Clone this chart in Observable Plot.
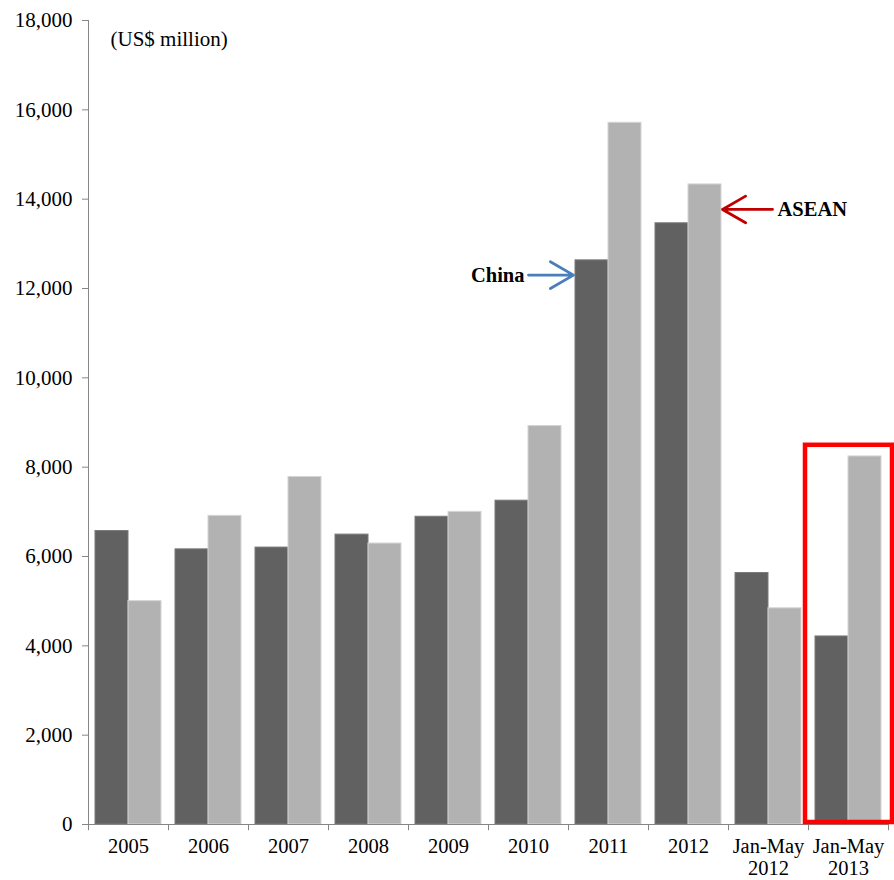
<!DOCTYPE html>
<html>
<head>
<meta charset="utf-8">
<script src="https://cdn.jsdelivr.net/npm/d3@7"></script>
<script src="https://cdn.jsdelivr.net/npm/@observablehq/plot@0.6"></script>
<style>
  html, body { margin: 0; padding: 0; background: #ffffff; }
  #chart { width: 894px; height: 880px; overflow: hidden; }
</style>
</head>
<body>
<div id="chart"></div>
<script>
// Categories (x-axis labels)
const categories = ["2005", "2006", "2007", "2008", "2009", "2010", "2011", "2012", "Jan-May 2012", "Jan-May 2013"];
const categoryLabels = ["2005", "2006", "2007", "2008", "2009", "2010", "2011", "2012", "Jan-May\n2012", "Jan-May\n2013"];
// Series values (US$ million)
const chinaValues = [6570, 6160, 6200, 6490, 6890, 7250, 12630, 13460, 5630, 4210];
const aseanValues = [5000, 6910, 7780, 6290, 7000, 8920, 15710, 14330, 4840, 8240];
// Y tick values
const yTicks = [0, 2000, 4000, 6000, 8000, 10000, 12000, 14000, 16000, 18000];
// Annotations
const unitLabel = "(US$ million)";
const chinaNote = {label: "China", from: "2010", to: "2011", value: 12300};
const aseanNote = {label: "ASEAN", from: "Jan-May 2012", to: "2012", value: 13770};
const highlight = {category: "Jan-May 2013", top: 8490};

const labelOf = new Map(categories.map((c, i) => [c, categoryLabels[i]]));
const china = categories.map((c, i) => ({category: c, value: chinaValues[i]}));
const asean = categories.map((c, i) => ({category: c, value: aseanValues[i]}));
const boundaries = categories.map(c => ({category: c, side: -1})).concat([{category: categories[categories.length - 1], side: 1}]);

const axisGrey = "#868686";

const chart = Plot.plot({
  width: 894,
  height: 880,
  marginLeft: 88,
  marginRight: 6,
  marginTop: 20,
  marginBottom: 56,
  style: {fontFamily: "'Liberation Serif', 'Times New Roman', serif", fontSize: "21px", color: "#000", background: "#fff"},
  x: {type: "band", domain: categories, padding: 0, label: null},
  y: {domain: [0, 18000], label: null},
  marks: [
    Plot.barY(china, {x: "category", y: "value", fill: "#616161", stroke: "#7a7a7a", strokeWidth: 1, insetLeft: 7, insetRight: 40}),
    Plot.barY(asean, {x: "category", y: "value", fill: "#b2b2b2", stroke: "#d4d4d4", strokeWidth: 1, insetLeft: 40, insetRight: 7}),
    Plot.frame({anchor: "left", stroke: axisGrey}),
    Plot.ruleY([0], {stroke: axisGrey}),
    Plot.ruleX(boundaries.filter(d => d.side < 0), {x: "category", y1: 0, y2: -140, dx: -40, stroke: axisGrey}),
    Plot.ruleX(boundaries.filter(d => d.side > 0), {x: "category", y1: 0, y2: -140, dx: 40, stroke: axisGrey}),
    Plot.axisY({ticks: yTicks, tickFormat: d3.format(","), tickSize: 6, tickPadding: 10, stroke: axisGrey, fill: "#000", fontSize: 21, label: null}),
    Plot.axisX({tickSize: 0, tickPadding: 13, tickFormat: d => labelOf.get(d), lineHeight: 1.08, fill: "#000", fontSize: 20.5, label: null}),
    Plot.text([unitLabel], {frameAnchor: "top-left", dx: 22, dy: 11, textAnchor: "start", lineAnchor: "top", fontSize: 21, fill: "#000"}),
    Plot.arrow([chinaNote], {x1: "from", x2: "to", y: "value", insetEnd: 35, stroke: "#4a7ebb", strokeWidth: 2.8, headLength: 18, headAngle: 60}),
    Plot.text([chinaNote], {x: "from", y: "value", text: "label", dx: -4, textAnchor: "end", fontWeight: "bold", fontSize: 20.5, fill: "#000"}),
    Plot.arrow([aseanNote], {x1: "from", x2: "to", y: "value", dx: 4, insetEnd: 30, stroke: "#c00000", strokeWidth: 2.8, headLength: 18, headAngle: 60}),
    Plot.text([aseanNote], {x: "from", y: "value", text: "label", dx: 9, textAnchor: "start", fontWeight: "bold", fontSize: 20.5, fill: "#000"}),
    Plot.barY([highlight], {x: "category", y1: 0, y2: "top", fill: "none", stroke: "#ff0000", strokeWidth: 4.5, insetLeft: -3, insetRight: -4, insetBottom: 2})
  ]
});
document.getElementById("chart").appendChild(chart);
</script>
</body>
</html>
